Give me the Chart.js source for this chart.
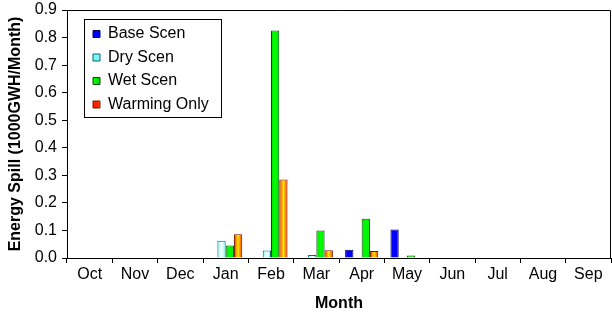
<!DOCTYPE html>
<html>
<head>
<meta charset="utf-8">
<script src="https://cdn.jsdelivr.net/npm/chart.js@4.4.1/dist/chart.umd.min.js"></script>
<style>
  html, body { margin:0; padding:0; background:#fff; }
  #wrap { width:612px; height:315px; position:relative; }
</style>
</head>
<body>
<div id="wrap"><canvas id="spill"></canvas></div>
<script>
// datos
const months = ['Oct','Nov','Dec','Jan','Feb','Mar','Apr','May','Jun','Jul','Aug','Sep'];
const baseScen    = [null, null, null, 0.002, null,  null,  0.03,  0.103, null, null, null, null];
const dryScen     = [null, null, null, 0.063, 0.027, 0.011, null,  null,  null, null, null, null];
const wetScen     = [null, null, null, 0.045, 0.826, 0.1,   0.142, 0.009, null, null, null, null];
const warmingOnly = [null, null, null, 0.086, 0.285, 0.028, 0.025, null,  null, null, null, null];
const yTicks = [0, 0.1, 0.2, 0.3, 0.4, 0.5, 0.6, 0.7, 0.8, 0.9];

const CAT_PCT = 0.73;
const N_SERIES = 4;

// degradado horizontal por barra (bordes -> centro -> bordes)
function barGradient(edge, mid, flat){
  return c => {
    if (c.type !== 'data') return flat;
    const chart = c.chart, xs = chart.scales.x;
    if (!xs || !chart.chartArea) return flat;
    const cw = xs.width / months.length;
    const bw = cw * CAT_PCT / N_SERIES;
    const left = xs.getPixelForValue(c.dataIndex) - cw * CAT_PCT / 2 + c.datasetIndex * bw;
    const g = chart.ctx.createLinearGradient(left, 0, left + bw, 0);
    g.addColorStop(0, edge);
    g.addColorStop(0.5, mid);
    g.addColorStop(1, edge);
    return g;
  };
}

// marco del area de trazado y de la leyenda
const framePlugin = {
  id: 'frame',
  afterLayout(chart){
    const lg = chart.legend;
    if (lg){ lg.left = chart.chartArea.left + 18.5; lg.top = chart.chartArea.top + 8.5; }
  },
  afterDraw(chart){
    const {ctx, chartArea:a} = chart;
    ctx.save();
    ctx.strokeStyle = '#000';
    ctx.lineWidth = 1;
    ctx.beginPath();
    ctx.moveTo(a.left, a.top + 0.5);
    ctx.lineTo(a.right - 0.5, a.top + 0.5);
    ctx.lineTo(a.right - 0.5, a.bottom);
    ctx.stroke();
    const lg = chart.legend;
    if (lg && lg.legendHitBoxes && lg.legendHitBoxes.length){
      const maxW = Math.max(...lg.legendHitBoxes.map(h => h.width));
      const l = Math.round(lg.left - 1.5) + 0.5;
      const t = Math.round(lg.top + 0.5) + 0.5;
      const r = Math.round(lg.left + 7.5 + maxW + 12) + 0.5;
      ctx.strokeRect(l, t, r - l, 98);
    }
    ctx.restore();
  }
};

const font = { family: '"Liberation Sans", Arial, sans-serif', size: 16 };

new Chart(document.getElementById('spill'), {
  type: 'bar',
  data: {
    labels: months,
    datasets: [
      { label:'Base Scen', data: baseScen, backgroundColor:'#0000ff', borderColor:'#000066', borderWidth:1 },
      { label:'Dry Scen', data: dryScen, backgroundColor: barGradient('#7ff4f4', '#ffffff', '#ccffff'), borderColor:'#006b6b', borderWidth:1 },
      { label:'Wet Scen', data: wetScen, backgroundColor: barGradient('#00e000', '#00ff00', '#00ff00'), borderColor:'#0a4a0a', borderWidth:1 },
      { label:'Warming Only', data: warmingOnly, backgroundColor: barGradient('#ff2000', '#ffee00', '#ffcc00'), borderColor:'#7a1500', borderWidth:1 }
    ]
  },
  options: {
    responsive: true,
    maintainAspectRatio: false,
    animation: false,
    devicePixelRatio: 1,
    layout: { padding: { top: 10, right: 1, left: 0, bottom: 0 } },
    datasets: { bar: { categoryPercentage: CAT_PCT, barPercentage: 1, borderSkipped: 'bottom' } },
    plugins: {
      legend: {
        position: 'chartArea',
        align: 'start',
        labels: { boxWidth: 7, boxHeight: 7, padding: 7.5, color: '#000', font: font }
      },
      tooltip: { enabled: false }
    },
    scales: {
      x: {
        offset: true,
        grid: { display: true, offset: true, drawOnChartArea: false, tickLength: 5, color: '#000' },
        border: { color: '#000', width: 1 },
        ticks: { color: '#000', font: font, padding: 2, maxRotation: 0, autoSkip: false },
        title: { display: true, text: 'Month', color: '#000', font: { ...font, weight: 'bold' }, padding: { top: 4, bottom: 2 } },
        afterFit: s => { s.height = 57; }
      },
      y: {
        min: 0, max: 0.9,
        afterBuildTicks: s => { s.ticks = yTicks.map(v => ({ value: v })); },
        grid: { display: true, drawOnChartArea: false, tickLength: 5, color: '#000' },
        border: { color: '#000', width: 1 },
        ticks: { color: '#000', font: font, padding: 5, callback: v => v.toFixed(1) },
        title: { display: true, text: 'Energy Spill (1000GWH/Month)', color: '#000', font: { ...font, weight: 'bold' }, padding: { top: 6, bottom: 4 } },
        afterFit: s => { s.width = 67; s.paddingTop = 0; s.paddingBottom = 0; }
      }
    }
  },
  plugins: [framePlugin]
});
</script>
</body>
</html>
